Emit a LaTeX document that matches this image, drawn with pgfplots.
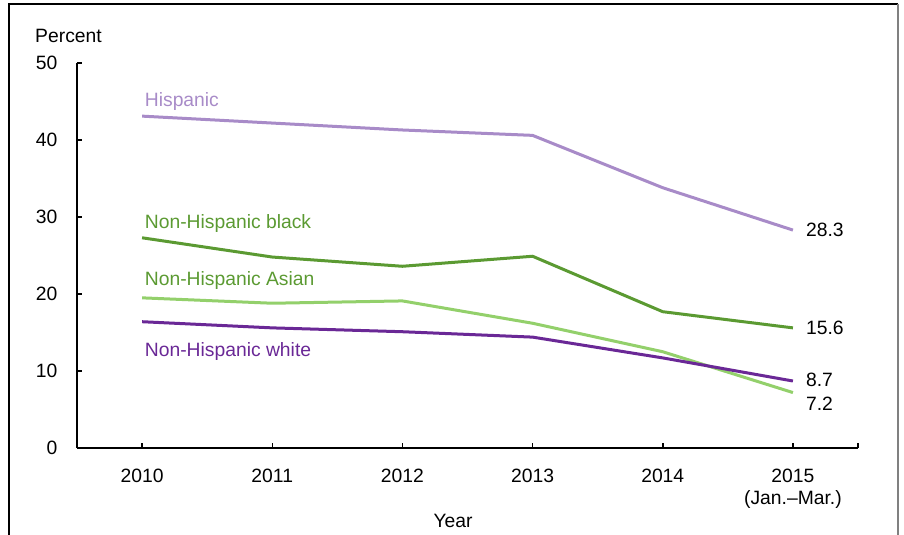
\documentclass[border=0pt]{standalone}
\usepackage{fontspec}
\setmainfont{Liberation Sans}
\usepackage{pgfplots}
\pgfplotsset{compat=1.18}
\definecolor{hisp}{HTML}{A88BC8}
\definecolor{blk}{HTML}{5B9A32}
\definecolor{asn}{HTML}{93D06B}
\definecolor{wht}{HTML}{6A2896}
\newcommand{\ff}{\fontsize{19.3bp}{22bp}\selectfont}
\begin{document}
\ff
\begin{tikzpicture}[x=1bp,y=1bp,font=\ff]
\useasboundingbox (-77,-87) rectangle (827,448);
\draw[black, line width=1.3bp] (-68,-100) -- (-68,444) -- (821,444);
\draw[gray, line width=1.3bp] (821,444) -- (821,-100);
\begin{axis}[at={(0,0)}, anchor=south west, scale only axis,
  width=781bp, height=385bp,
  xmin=-0.5, xmax=5.5, ymin=0, ymax=50,
  axis x line*=bottom, axis y line*=left,
  axis line style={line width=1.5bp, black},
  xtick={0,1,2,3,4,5},
  xticklabels={2010,2011,2012,2013,2014,{2015\\(Jan.--Mar.)}},
  extra x ticks={5.5}, extra x tick labels={},
  ytick={0,10,20,30,40,50},
  yticklabels={0,10,20,30,40,50},
  tick align=inside, major tick length=5bp,
  tick style={black, line width=1.5bp},
  every tick label/.append style={font=\ff},
  xticklabel style={align=center, yshift=-14bp},
  yticklabel style={xshift=-13bp},
  clip=false,
]
\addplot[hisp, line width=3bp] coordinates {(0,43.1) (1,42.2) (2,41.3) (3,40.6) (4,33.8) (5,28.3)};
\addplot[blk, line width=3bp] coordinates {(0,27.3) (1,24.8) (2,23.6) (3,24.9) (4,17.7) (5,15.6)};
\addplot[asn, line width=3bp] coordinates {(0,19.5) (1,18.8) (2,19.1) (3,16.2) (4,12.5) (5,7.2)};
\addplot[wht, line width=3bp] coordinates {(0,16.4) (1,15.6) (2,15.1) (3,14.4) (4,11.7) (5,8.7)};
\node[anchor=west, text=hisp, inner sep=0pt] at (axis cs:0.02,45.0) {Hispanic};
\node[anchor=west, text=blk, inner sep=0pt] at (axis cs:0.02,29.1) {Non-Hispanic black};
\node[anchor=west, text=blk, inner sep=0pt] at (axis cs:0.02,21.8) {Non-Hispanic Asian};
\node[anchor=west, text=wht, inner sep=0pt] at (axis cs:0.02,12.5) {Non-Hispanic white};
\node[anchor=west, inner sep=0pt] at (axis cs:5.1,28.3) {28.3};
\node[anchor=west, inner sep=0pt] at (axis cs:5.1,15.6) {15.6};
\node[anchor=west, inner sep=0pt] at (axis cs:5.1,8.8) {8.7};
\node[anchor=west, inner sep=0pt] at (axis cs:5.1,5.7) {7.2};
\end{axis}
\node at (-8.5,412) {Percent};
\node at (376,-73) {Year};
\end{tikzpicture}
\end{document}
